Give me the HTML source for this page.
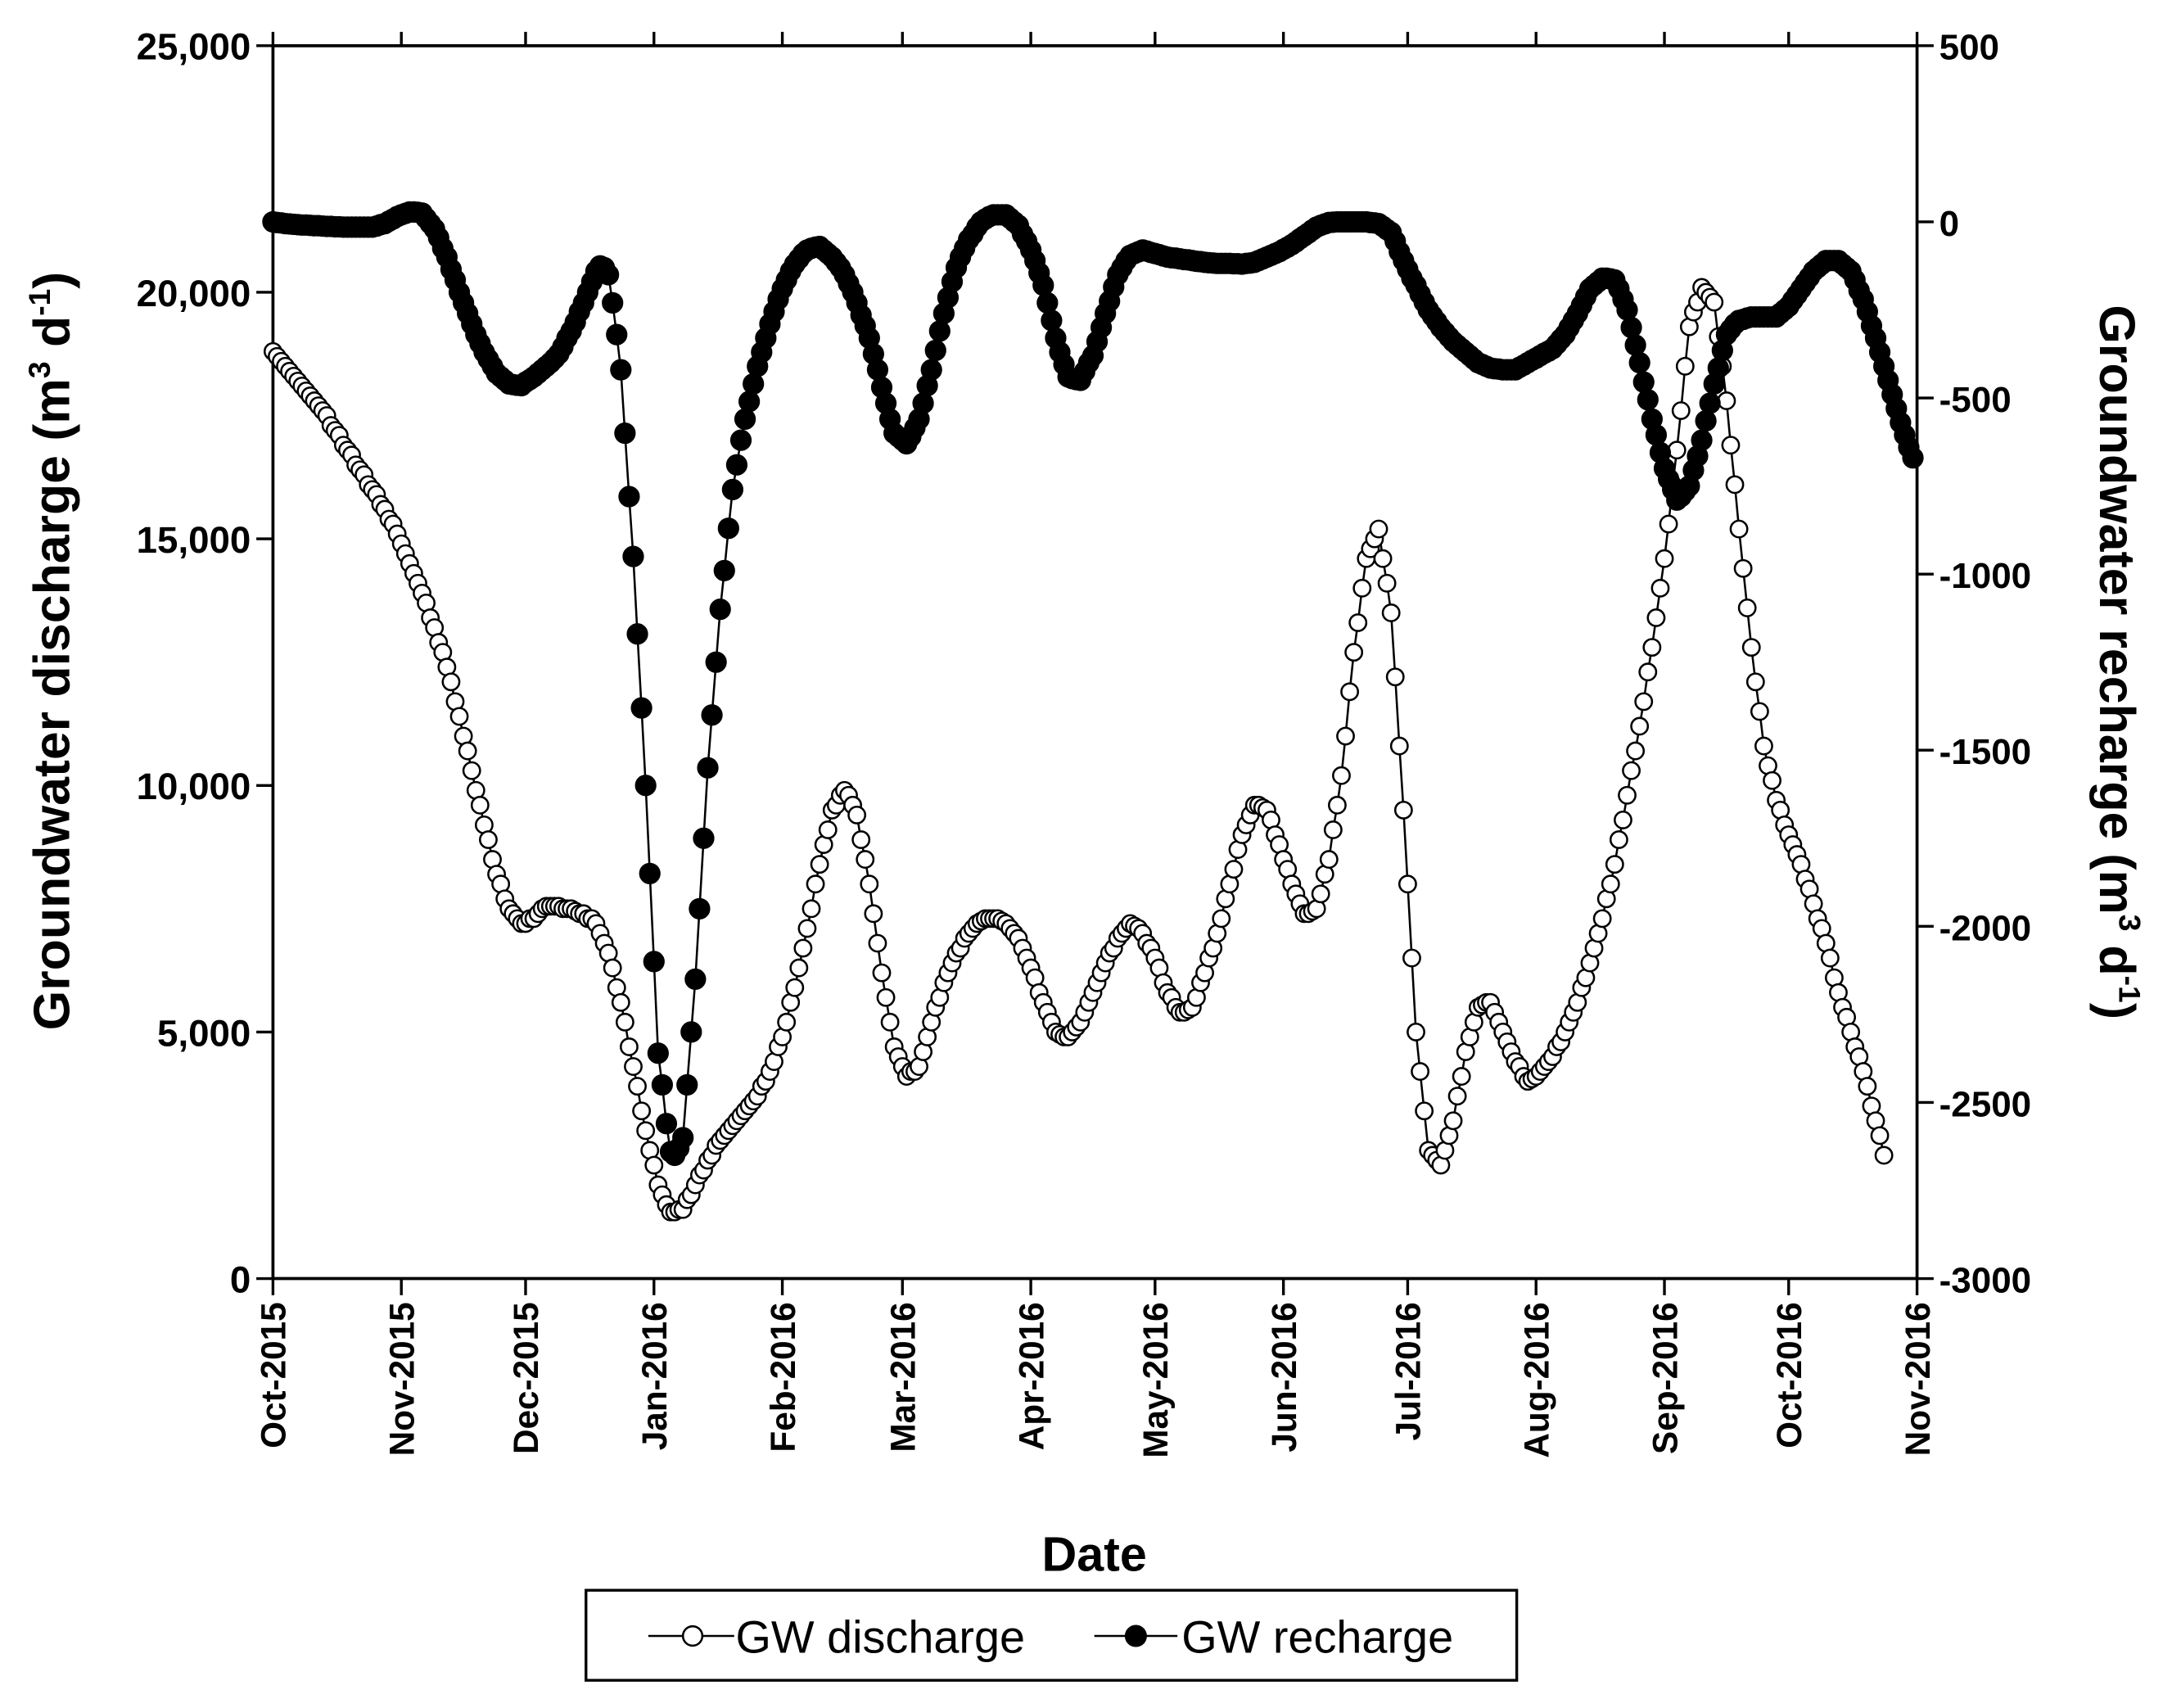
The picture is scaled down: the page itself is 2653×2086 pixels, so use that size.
<!DOCTYPE html>
<html><head><meta charset="utf-8"><style>
html,body{margin:0;padding:0;background:#fff}
svg{display:block}
text{font-family:"Liberation Sans",sans-serif;font-weight:bold;fill:#000}
</style></head><body>
<svg id="chart" width="2653" height="2086" viewBox="0 0 1568 1233" xmlns="http://www.w3.org/2000/svg">
<g id="axes"></g>
<g id="series"></g>
<text x="790" y="1134" font-size="35" text-anchor="middle">Date</text>
<text transform="translate(50,470) rotate(-90)" font-size="37" text-anchor="middle">Groundwater discharge (m<tspan font-size="22" dy="-14">3</tspan><tspan dy="14"> d</tspan><tspan font-size="22" dy="-14">-1</tspan><tspan dy="14">)</tspan></text>
<text transform="translate(1516,478) rotate(90)" font-size="36" text-anchor="middle">Groundwater recharge (m<tspan font-size="22" dy="-14">3</tspan><tspan dy="14"> d</tspan><tspan font-size="22" dy="-14">-1</tspan><tspan dy="14">)</tspan></text>
<g>
<rect x="423" y="1148" width="672" height="65" fill="#fff" stroke="#000" stroke-width="2"/>
<g>
<line x1="468" y1="1181" x2="530" y2="1181" stroke="#000" stroke-width="1.5"/>
<circle cx="500" cy="1181" r="7" fill="#fff" stroke="#000" stroke-width="1.5"/>
<text x="531" y="1193" font-size="33" style="font-weight:normal">GW discharge</text></g>
<g>
<line x1="790" y1="1181" x2="850" y2="1181" stroke="#000" stroke-width="1.5"/>
<circle cx="820" cy="1181" r="8" fill="#000"/>
<text x="853" y="1193" font-size="33" style="font-weight:normal">GW recharge</text></g>
</g>
</svg>
<script>
const months=["Oct-2015","Nov-2015","Dec-2015","Jan-2016","Feb-2016","Mar-2016","Apr-2016","May-2016","Jun-2016","Jul-2016","Aug-2016","Sep-2016","Oct-2016","Nov-2016"];
const monthDays=[0,31,61,92,123,152,183,213,244,274,305,336,366,397];
const leftTicks=[0,5000,10000,15000,20000,25000];
const leftTickLabels=["0","5,000","10,000","15,000","20,000","25,000"];
const rightTicks=[-3000,-2500,-2000,-1500,-1000,-500,0,500];
// daily values (index = day since 1 Oct 2015), discharge in thousands m3/d
const dischargeK=[18.8,18.7,18.6,18.5,18.4,18.3,18.2,18.1,18.0,17.9,17.8,17.7,17.6,17.5,17.3,17.2,17.1,16.9,16.8,16.7,16.5,16.4,16.3,16.1,16.0,15.9,15.7,15.6,15.4,15.3,15.1,14.9,14.7,14.5,14.3,14.1,13.9,13.7,13.4,13.2,12.9,12.7,12.4,12.1,11.7,11.4,11.0,10.7,10.3,9.9,9.6,9.2,8.9,8.5,8.2,8.0,7.7,7.5,7.4,7.3,7.2,7.2,7.3,7.3,7.4,7.5,7.55,7.55,7.55,7.55,7.5,7.5,7.5,7.45,7.4,7.4,7.3,7.3,7.2,7.0,6.8,6.6,6.3,5.9,5.6,5.2,4.7,4.3,3.9,3.4,3.0,2.6,2.3,1.9,1.7,1.5,1.35,1.35,1.4,1.4,1.6,1.7,1.9,2.1,2.2,2.4,2.5,2.7,2.8,2.9,3.0,3.1,3.2,3.3,3.4,3.5,3.6,3.7,3.9,4.0,4.2,4.4,4.7,4.9,5.2,5.6,5.9,6.3,6.7,7.1,7.5,8.0,8.4,8.8,9.1,9.5,9.6,9.8,9.9,9.8,9.6,9.4,8.9,8.5,8.0,7.4,6.8,6.2,5.7,5.2,4.7,4.5,4.3,4.1,4.2,4.2,4.3,4.6,4.9,5.2,5.5,5.7,6.0,6.2,6.4,6.6,6.7,6.9,7.0,7.1,7.2,7.25,7.3,7.3,7.3,7.3,7.25,7.2,7.1,7.0,6.9,6.7,6.5,6.3,6.1,5.8,5.6,5.4,5.2,5.0,4.95,4.9,4.9,5.0,5.1,5.2,5.4,5.6,5.8,6.0,6.2,6.4,6.6,6.7,6.9,7.0,7.1,7.2,7.15,7.1,7.0,6.8,6.7,6.5,6.3,6.0,5.8,5.7,5.5,5.4,5.4,5.45,5.5,5.7,6.0,6.2,6.5,6.7,7.0,7.3,7.7,8.0,8.3,8.7,9.0,9.2,9.4,9.6,9.6,9.55,9.5,9.3,9.0,8.8,8.5,8.3,8.0,7.8,7.6,7.4,7.4,7.45,7.5,7.8,8.2,8.5,9.1,9.6,10.2,11.0,11.9,12.7,13.3,14.0,14.6,14.8,15.0,15.2,14.6,14.1,13.5,12.2,10.8,9.5,8.0,6.5,5.0,4.2,3.4,2.6,2.5,2.4,2.3,2.6,2.9,3.2,3.7,4.1,4.6,4.9,5.2,5.5,5.55,5.6,5.6,5.4,5.2,5.0,4.8,4.6,4.4,4.3,4.1,4.0,4.05,4.1,4.2,4.3,4.4,4.5,4.7,4.8,5.0,5.2,5.4,5.6,5.9,6.1,6.4,6.7,7.0,7.3,7.7,8.0,8.4,8.9,9.3,9.8,10.3,10.7,11.2,11.7,12.3,12.8,13.4,14.0,14.6,15.3,16.1,16.8,17.6,18.5,19.3,19.6,19.8,20.1,20.0,19.9,19.8,19.1,18.5,17.8,16.9,16.1,15.2,14.4,13.6,12.8,12.1,11.5,10.8,10.4,10.1,9.7,9.5,9.2,9.0,8.8,8.6,8.4,8.1,7.9,7.6,7.3,7.1,6.8,6.5,6.1,5.8,5.5,5.3,5.0,4.7,4.5,4.2,3.9,3.5,3.2,2.9,2.5];
// daily recharge values m3/d
const rechargeVals=[0,-2,-3,-5,-6,-7,-8,-9,-9,-10,-11,-11,-12,-13,-13,-14,-14,-15,-15,-15,-15,-15,-15,-15,-15,-12,-8,-5,2,8,15,20,24,28,28,27,25,10,-5,-20,-45,-75,-100,-135,-165,-200,-230,-260,-290,-320,-345,-370,-390,-410,-430,-440,-450,-460,-462,-464,-465,-455,-448,-440,-430,-420,-410,-400,-388,-375,-355,-330,-310,-285,-255,-230,-200,-170,-140,-125,-130,-150,-230,-320,-420,-600,-780,-950,-1170,-1380,-1600,-1850,-2100,-2360,-2450,-2560,-2640,-2650,-2630,-2600,-2450,-2300,-2150,-1950,-1750,-1550,-1400,-1250,-1100,-990,-870,-760,-690,-620,-560,-510,-460,-410,-370,-330,-290,-255,-220,-190,-165,-140,-120,-105,-90,-80,-75,-72,-70,-80,-90,-100,-115,-130,-150,-175,-200,-230,-265,-295,-330,-375,-420,-470,-515,-560,-600,-610,-620,-630,-610,-585,-560,-515,-465,-420,-365,-310,-260,-215,-170,-130,-100,-75,-50,-35,-15,0,8,15,20,20,20,20,10,0,-10,-35,-55,-80,-110,-145,-180,-230,-280,-330,-370,-405,-440,-445,-448,-450,-425,-400,-380,-340,-300,-260,-225,-185,-150,-130,-110,-95,-90,-85,-80,-83,-87,-90,-93,-97,-100,-102,-103,-105,-107,-108,-110,-112,-113,-115,-116,-117,-118,-118,-118,-118,-119,-119,-120,-118,-117,-115,-110,-105,-100,-95,-90,-85,-78,-72,-65,-57,-48,-40,-32,-23,-15,-10,-6,-2,-1,0,0,0,0,0,0,0,0,-2,-3,-5,-13,-22,-30,-55,-85,-110,-135,-160,-180,-205,-228,-250,-267,-283,-300,-313,-327,-340,-350,-360,-370,-380,-390,-400,-405,-410,-415,-417,-418,-420,-420,-420,-420,-413,-407,-400,-393,-387,-380,-373,-367,-360,-347,-333,-320,-300,-280,-260,-237,-213,-190,-180,-170,-160,-160,-162,-165,-190,-220,-250,-300,-350,-400,-455,-505,-560,-605,-655,-700,-730,-760,-790,-780,-765,-750,-705,-665,-620,-565,-515,-460,-415,-365,-320,-305,-290,-280,-277,-273,-270,-270,-270,-270,-270,-270,-270,-260,-250,-240,-223,-207,-190,-173,-157,-140,-130,-120,-110,-110,-110,-110,-120,-130,-140,-165,-195,-220,-255,-295,-330,-370,-410,-450,-490,-530,-570,-605,-640,-670];

const NS="http://www.w3.org/2000/svg";
const L=197,R=1384,T=33,B=923;
const xs=d=>L+d*(R-L)/397;
const yl=v=>B-(v/25000)*(B-T);
const ylK=v=>yl(v*1000);
const yr=v=>B-((v+3000)/3500)*(B-T);
function mk(tag,attrs,parent){const e=document.createElementNS(NS,tag);for(const k in attrs)e.setAttribute(k,attrs[k]);parent.appendChild(e);return e;}
const ax=document.getElementById('axes');
const frame=mk('path',{d:`M${L},${T}V${B}H${R}V${T}H${L}`,fill:'none',stroke:'#000','stroke-width':2.2},ax);


leftTicks.forEach((v,i)=>{
  const t=mk('line',{x1:L-12,x2:L,y1:yl(v),y2:yl(v),stroke:'#000','stroke-width':2},ax);
  
  
  const tx=mk('text',{x:L-16,y:yl(v)+10,'font-size':27,'text-anchor':'end'},ax);
  tx.textContent=leftTickLabels[i];
  
  
});
rightTicks.forEach(v=>{
  const t=mk('line',{x1:R,x2:R+12,y1:yr(v),y2:yr(v),stroke:'#000','stroke-width':2},ax);
  
  
  const tx=mk('text',{x:R+16,y:yr(v)+10,'font-size':26},ax);
  tx.textContent=String(v);
  
  
});
monthDays.forEach((d,i)=>{
  const x=xs(d);
  const t=mk('line',{x1:x,x2:x,y1:B,y2:B+12,stroke:'#000','stroke-width':2},ax);
  
  
  const t2=mk('line',{x1:x,x2:x,y1:T-10,y2:T,stroke:'#000','stroke-width':2},ax);
  
  
  const tx=mk('text',{transform:`translate(${x+9},${B+17}) rotate(-90)`,'font-size':25,'text-anchor':'end'},ax);
  tx.textContent=months[i];
  
  
});
const sg=document.getElementById('series');
function drawSeries(vals,yf,name,filled){
  const g=mk('g',{},sg);
  
  
  const pts=vals.map((v,d)=>xs(d)+','+yf(v)).join(' ');
  const pl=mk('polyline',{points:pts,fill:'none',stroke:'#000','stroke-width':1.5},g);
  
  
  vals.forEach((v,d)=>{
    const c=mk('circle',{cx:xs(d),cy:yf(v),r:filled?7:6,fill:filled?'#000':'#fff',stroke:'#000','stroke-width':1.5},g);
    
    
  });
}
drawSeries(dischargeK,ylK,'gw-discharge',false);
drawSeries(rechargeVals,yr,'gw-recharge',true);
</script>
</body></html>
